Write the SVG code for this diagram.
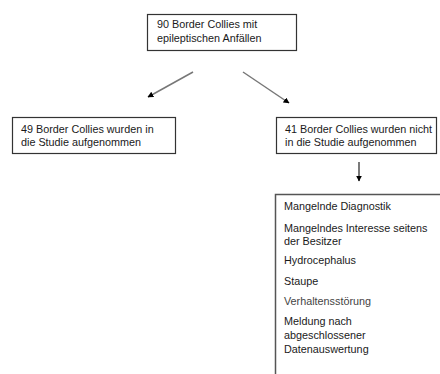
<svg xmlns="http://www.w3.org/2000/svg" width="440" height="374" viewBox="0 0 440 374">
<style>
.box{fill:#fff;stroke:#333;stroke-width:1.2}
.t{font-family:"Liberation Sans",Arial,sans-serif;font-size:10.8px;fill:#1a1a1a}
.c{stroke:#777;stroke-width:1.5;fill:none}
</style>
<defs>
<marker id="ah" viewBox="0 0 10 10" refX="9" refY="5" markerWidth="6" markerHeight="6" markerUnits="userSpaceOnUse" orient="auto">
<path d="M0,0 L10,5 L0,10 z" fill="#000"/>
</marker>
</defs>
<rect width="440" height="374" fill="#fff"/>
<g id="connectors">
<line class="c" x1="193" y1="72" x2="148" y2="97" marker-end="url(#ah)"/>
<line class="c" x1="243" y1="72" x2="289" y2="103" marker-end="url(#ah)"/>
<line x1="359" y1="162" x2="359" y2="181" stroke="#222" stroke-width="1.2" marker-end="url(#ah)"/>
</g>
<g id="n1">
<rect class="box" x="147.5" y="14.5" width="149" height="36"/>
<text class="t" x="157" y="28">90 Border Collies mit</text>
<text class="t" x="157" y="42">epileptischen Anfällen</text>
</g>
<g id="n2">
<rect class="box" x="12.5" y="117.5" width="163" height="36"/>
<text class="t" x="21" y="133">49 Border Collies wurden in</text>
<text class="t" x="21" y="146">die Studie aufgenommen</text>
</g>
<g id="n3">
<rect class="box" x="276.5" y="117.5" width="160" height="36"/>
<text class="t" x="285" y="133">41 Border Collies wurden nicht</text>
<text class="t" x="285" y="146">in die Studie aufgenommen</text>
</g>
<g id="n4">
<path d="M441,194.5 H275.5 V375" fill="none" stroke="#555" stroke-width="1.5"/>
<text class="t" x="284" y="210">Mangelnde Diagnostik</text>
<text class="t" x="284" y="232">Mangelndes Interesse seitens</text>
<text class="t" x="284" y="245">der Besitzer</text>
<text class="t" x="284" y="264">Hydrocephalus</text>
<text class="t" x="284" y="285">Staupe</text>
<text class="t" x="284" y="305" style="fill:#444">Verhaltensstörung</text>
<text class="t" x="284" y="325">Meldung nach</text>
<text class="t" x="284" y="339">abgeschlossener</text>
<text class="t" x="284" y="353">Datenauswertung</text>
</g>
</svg>
